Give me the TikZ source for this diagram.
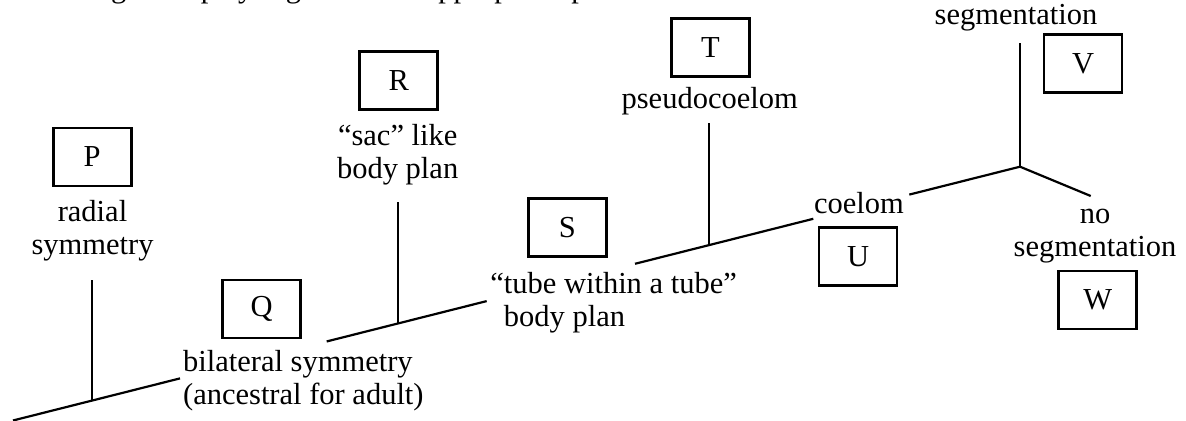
\documentclass[tikz,border=0pt]{standalone}
\usepackage{fontspec}
\setmainfont{Liberation Serif}
\begin{document}
\begin{tikzpicture}[x=0.5pt,y=-0.5pt,
  lbl/.style={draw,line width=1.3pt,minimum width=39pt,minimum height=29pt,inner sep=0pt,
    font=\fontsize{15.25}{16.6}\selectfont},
  txt/.style={inner sep=0pt,font=\fontsize{15.25}{16.6}\selectfont},
  branch/.style={line width=1.1pt}]
\useasboundingbox (0,0) rectangle (1186,421);

% running text of the page, cut at the top edge
\begin{scope}
  \clip (0,0) rectangle (1186,421);
  \node[txt,anchor=base west] (header) at (87,-2.5) {ing to display organisms in appropriate position};
\end{scope}

% letter boxes
\node[lbl] (P) at (92.2,157)   {P};
\node[lbl] (Q) at (261.7,309)  {Q};
\node[lbl] (R) at (398.7,80.7) {R};
\node[lbl] (S) at (567.3,227.5) {S};
\node[lbl] (T) at (710.5,47.7) {T};
\node[lbl] (U) at (858,256.7)  {U};
\node[lbl] (V) at (1083,63.5)  {V};
\node[lbl] (W) at (1097.7,300) {W};

% trait labels
\node[txt,align=center,anchor=base] (radial) at (92.5,255) {radial\\symmetry};
\node[txt,align=left,anchor=base west] (bilat) at (182.7,404.5) {bilateral symmetry\\(ancestral for adult)};
\node[txt,align=center,anchor=base] (sac) at (397.7,178.3) {“sac” like\\body plan};
\node[txt,align=left,anchor=base west] (tube) at (503.5,326.7) {\llap{“}tube within a tube”\\body plan};
\node[txt,anchor=base] (pseudo) at (709.7,108.3) {pseudocoelom};
\node[txt,anchor=base] (coelom) at (859,213.3) {coelom};
\node[txt,anchor=base] (seg) at (1016,25) {segmentation};
\node[txt,align=center,anchor=base] (noseg) at (1095,256.7) {no\\segmentation};

% points on the tree
\coordinate (root) at (13,420.5);
\coordinate (a1) at (180,378.4);
\coordinate (a2) at (326.7,341.45);
\coordinate (jP) at (91.7,400.7);
\coordinate (jR) at (398.3,323.4);
\coordinate (a3) at (486.7,301.1);
\coordinate (a4) at (635,263.8);
\coordinate (jT) at (709.3,245.0);
\coordinate (a5) at (813.3,218.8);
\coordinate (a6) at (909.3,194.6);
\coordinate (jV) at (1020,166.7);
\coordinate (vTop) at (1020,43.3);
\coordinate (wEnd) at (1090.7,196);
\coordinate (pTop) at (91.7,280);
\coordinate (rTop) at (398.3,202.3);
\coordinate (tTop) at (709.3,123.3);

% main stem, broken around the labels
\draw[branch] (root) -- (a1);
\draw[branch] (a2) -- (a3);
\draw[branch] (a4) -- (a5);
\draw[branch] (a6) -- (jV);
% side branches
\draw[branch] (jP) -- (pTop);
\draw[branch] (jR) -- (rTop);
\draw[branch] (jT) -- (tTop);
\draw[branch] (jV) -- (vTop);
\draw[branch] (jV) -- (wEnd);
\end{tikzpicture}
\end{document}
